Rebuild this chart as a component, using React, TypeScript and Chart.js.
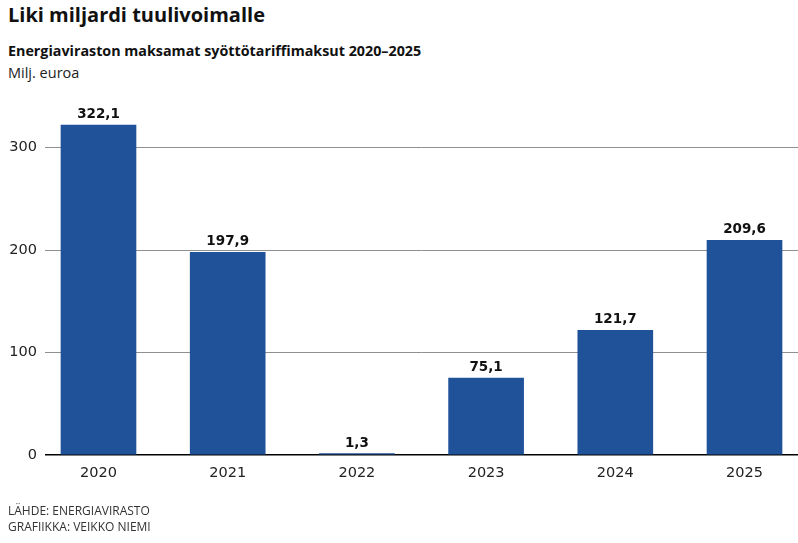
import React, { useEffect, useRef } from "react";
import { Chart, registerables } from "chart.js";

Chart.register(...registerables);

const years = ["2020", "2021", "2022", "2023", "2024", "2025"];
const values = [322.1, 197.9, 1.3, 75.1, 121.7, 209.6];
const yTicks = [0, 100, 200, 300];

const FONT = "'Open Sans', 'Noto Sans', sans-serif";
const NUM_FONT = "'DejaVu Sans', Verdana, sans-serif";
const BAR_COLOR = "#20529a";

const fmt = (v: number) => v.toFixed(1).replace(".", ",");

const valueLabels = {
  id: "valueLabels",
  afterDatasetsDraw(chart: any) {
    const ctx = chart.ctx;
    const meta = chart.getDatasetMeta(0);
    ctx.save();
    ctx.font = `bold 13.5px ${NUM_FONT}`;
    ctx.fillStyle = "#111";
    ctx.textAlign = "center";
    ctx.textBaseline = "alphabetic";
    meta.data.forEach((el: any, i: number) => {
      ctx.fillText(fmt(values[i]), el.x, el.y - 7);
    });
    ctx.restore();
  },
};

export default function App() {
  const ref = useRef<HTMLCanvasElement | null>(null);

  useEffect(() => {
    document.body.style.margin = "0";
    const canvas = ref.current;
    if (!canvas) return;
    const chart = new Chart(canvas, {
      type: "bar",
      data: {
        datasets: [
          {
            data: values.map((v, i) => ({ x: i, y: v })),
            backgroundColor: BAR_COLOR,
            barThickness: 75,
            borderWidth: 0,
          },
        ],
      },
      options: {
        animation: false,
        responsive: false,
        maintainAspectRatio: false,
        layout: { padding: { top: 117, left: 0, right: 0, bottom: 0 } },
        plugins: {
          legend: { display: false },
          tooltip: { enabled: false },
        },
        scales: {
          x: {
            type: "linear",
            offset: false,
            min: -0.414,
            max: 5.414,
            afterBuildTicks(scale: any) {
              scale.ticks = years.map((_, i) => ({ value: i }));
            },
            afterFit(scale: any) {
              scale.height = 88;
            },
            grid: { display: false, offset: false },
            border: { display: false },
            ticks: {
              autoSkip: false,
              maxRotation: 0,
              padding: 2,
              color: "#222",
              font: { family: NUM_FONT, size: 14.5 },
              callback: (v: any) => years[Math.round(Number(v))] ?? "",
            },
          },
          y: {
            min: 0,
            max: 330,
            afterBuildTicks(scale: any) {
              scale.ticks = yTicks.map((v) => ({ value: v }));
            },
            afterFit(scale: any) {
              scale.width = 45;
            },
            border: { display: false },
            grid: {
              drawTicks: false,
              color: (c: any) => (c.tick && c.tick.value === 0 ? "#000" : "#8f8f8f"),
              lineWidth: (c: any) => (c.tick && c.tick.value === 0 ? 1.5 : 1),
            },
            ticks: {
              padding: 8,
              color: "#222",
              font: { family: NUM_FONT, size: 14.5 },
            },
          },
        },
      },
      plugins: [valueLabels],
    } as any);
    return () => chart.destroy();
  }, []);

  return (
    <div style={{ position: "relative", width: 798, height: 543, fontFamily: FONT, color: "#111" }}>
      <div style={{ position: "absolute", left: 8, top: 2, fontSize: 20, fontWeight: 700, lineHeight: "26px" }}>
        Liki miljardi tuulivoimalle
      </div>
      <div style={{ position: "absolute", left: 8, top: 41, fontSize: 14.3, fontWeight: 700, lineHeight: "20px" }}>
        Energiaviraston maksamat syöttötariffimaksut 2020–2025
      </div>
      <div style={{ position: "absolute", left: 8, top: 63, fontSize: 14.5, lineHeight: "20px", color: "#222" }}>
        Milj. euroa
      </div>
      <canvas ref={ref} width={798} height={543} style={{ position: "absolute", left: 0, top: 0 }} />
      <div style={{ position: "absolute", left: 8, top: 503, fontSize: 12, lineHeight: "16px", color: "#333" }}>
        LÄHDE: ENERGIAVIRASTO
        <br />
        GRAFIIKKA: VEIKKO NIEMI
      </div>
    </div>
  );
}
